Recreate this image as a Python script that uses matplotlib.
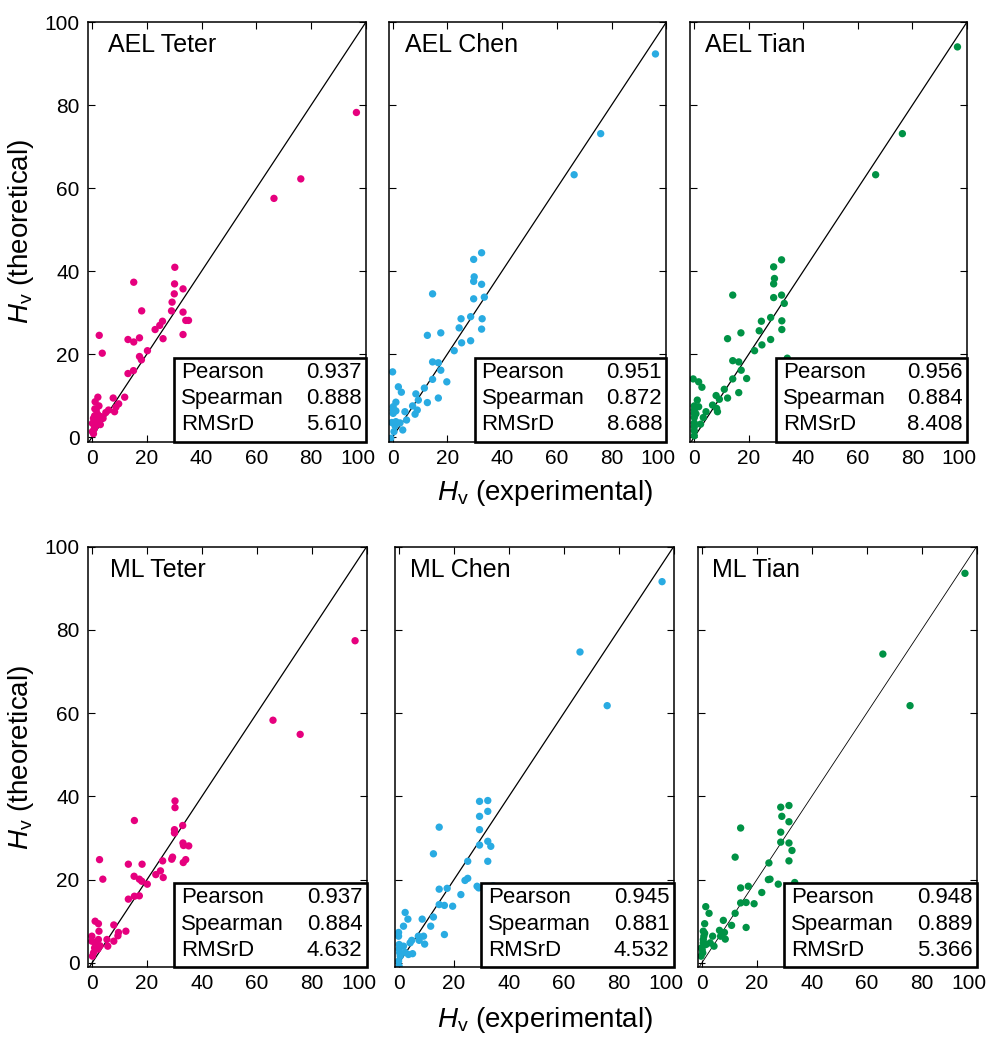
import matplotlib
matplotlib.use("Agg")
import matplotlib.pyplot as plt
from matplotlib.patches import Rectangle
from matplotlib.transforms import ScaledTranslation

plt.rcParams["font.family"] = ["Liberation Sans", "DejaVu Sans"]
plt.rcParams["mathtext.fontset"] = "custom"
plt.rcParams["mathtext.rm"] = "Liberation Sans"
plt.rcParams["mathtext.it"] = "Liberation Sans:italic"

# --- data (experimental, theoretical) ---
ael_teter_x = [30.2, 15.2, 30.1, 33.2, 30.0, 29.2, 18.1, 29.0, 33.2, 34.2, 35.2, 25.7, 24.7, 23.0,
               33.2, 2.6, 25.9, 13.1, 15.2, 17.3, 20.2, 3.7, 17.3, 18.0, 15.1, 13.1,
               2.1, 7.7, 11.9, 1.1, 9.7, 8.7, 8.2, 5.0, 3.3, 0.9, 2.1, 0.1, 1.1, 0.1, 1.5, 2.5,
               0.5, 1.5, 3.0, 0.8, 0.5, 6.0, 4.0, 2.0, 1.0, 66.4, 76.2, 96.5]
ael_teter_y = [40.9, 37.3, 36.9, 35.7, 34.5, 32.5, 30.4, 30.4, 30.1, 28.1, 28.1, 27.9, 26.9, 25.9,
               24.7, 24.5, 23.7, 23.5, 22.9, 23.9, 20.8, 20.2, 19.4, 18.6, 16.0, 15.3,
               9.6, 9.4, 9.6, 8.5, 8.0, 7.2, 6.1, 5.9, 4.9, 5.1, 4.1, 3.3, 2.5, 1.3, 6.5, 7.5,
               4.5, 3.8, 3.0, 2.0, 0.8, 6.5, 4.5, 5.5, 6.8, 57.5, 62.2, 78.2]

ael_chen_x = [32.5, 29.6, 29.8, 29.6, 32.5, 14.6, 29.6, 33.5, 25.0, 28.5, 32.7, 24.3, 32.5, 17.6,
              12.7, 28.5, 25.2, 22.5, 34.4, 14.6, 16.7, 17.6, 0.0, 14.6, 19.8, 2.1, 11.6, 3.2,
              8.5, 16.7, 12.7, 9.4, 1.2, 7.3, 0.2, 0.2, 0.2, 4.5, 9.0, 8.2, 1.2, 5.1, 1.2, -0.3,
              3.7, 0.5, -0.7, 0.9, 2.7, 66.3, 76.0, 96.0]
ael_chen_y = [44.4, 42.8, 38.6, 37.5, 36.8, 34.5, 33.3, 33.7, 28.5, 29.0, 28.5, 26.3, 26.0, 25.1,
              24.5, 23.2, 22.7, 20.8, 18.1, 18.1, 17.9, 16.1, 15.7, 13.9, 13.3, 12.1, 11.8, 10.8,
              10.4, 9.4, 8.3, 8.9, 8.4, 7.5, 7.3, 6.5, 5.7, 6.1, 6.5, 5.5, 6.3, 4.1, 3.7, 3.5,
              1.7, 1.3, -0.3, 2.7, 3.4, 63.2, 73.1, 92.3]

ael_tian_x = [32.0, 29.1, 29.4, 29.1, 14.1, 32.0, 29.1, 33.0, 24.6, 28.0, 32.1, 23.8, 32.1, 17.1,
              12.2, 28.0, 24.8, 22.1, 34.1, 14.1, 16.3, 17.2, -0.4, 14.1, 19.2, 1.6, 2.8, 11.0,
              8.0, 16.3, 12.2, 1.1, 9.2, 0.0, 0.0, 0.0, 0.0, 0.0, 0.0, 0.0, 1.6, 6.7, 8.2, 8.5,
              4.3, 3.3, 0.6, 2.3, 0.0, 66.5, 76.3, 96.5]
ael_tian_y = [42.7, 41.0, 38.2, 36.9, 34.2, 34.2, 33.6, 32.2, 27.9, 28.8, 28.0, 25.6, 25.9, 25.1,
              23.7, 23.5, 22.2, 20.8, 19.0, 18.4, 18.1, 16.1, 14.0, 14.0, 14.1, 13.3, 12.0, 11.5,
              10.0, 10.7, 9.4, 8.9, 9.1, 7.5, 6.5, 5.7, 4.7, 3.4, 2.5, 1.5, 7.3, 7.7, 6.9, 6.1,
              6.1, 4.7, 5.6, 3.1, 0.3, 63.2, 73.1, 94.0]

ml_teter_x = [30.2, 30.2, 15.4, 33.0, 30.0, 30.0, 33.1, 35.2, 33.3, 29.3, 29.0, 34.1, 33.2, 25.7,
              2.7, 13.2, 18.2, 24.9, 23.2, 25.9, 15.3, 17.2, 18.1, 20.1, 3.9, 17.2, 15.4, 13.2,
              1.1, 2.3, 2.5, 7.9, 9.6, 9.4, 12.3, 5.4, 5.7, 7.9, 1.1, 0.9, 0.5, 0.1, 2.3, 2.9,
              2.1, -0.1, -0.1, 65.9, 75.8, 95.8]
ml_teter_y = [38.9, 37.3, 34.2, 33.0, 32.0, 31.2, 28.8, 28.1, 28.2, 25.4, 24.9, 24.8, 24.1, 24.5,
              24.8, 23.7, 23.7, 22.1, 21.2, 20.5, 20.8, 20.1, 19.6, 18.9, 20.1, 16.1, 16.0, 15.3,
              10.0, 9.4, 7.6, 9.1, 7.3, 6.5, 7.6, 5.6, 4.0, 5.2, 4.8, 3.6, 2.4, 1.6, 5.6, 4.1,
              3.3, 6.4, 5.2, 58.3, 54.9, 77.4]

ml_chen_x = [29.3, 32.3, 32.3, 14.6, 29.3, 29.3, 32.3, 29.3, 33.4, 12.5, 25.0, 32.3, 25.0, 24.0,
             28.4, 29.0, 34.3, 14.6, 17.5, 22.5, 14.6, 16.5, 19.5, 2.2, 12.5, 3.2, 8.4, 11.5,
             1.6, 16.5, -0.2, -0.2, 7.0, 8.9, 9.3, 7.3, 4.0, 4.6, 0.0, 0.0, 0.2, 0.4, -0.2, 0.0,
             1.6, 2.2, 4.9, 3.4, 65.9, 75.8, 95.8]
ml_chen_y = [38.8, 39.0, 36.4, 32.6, 35.2, 32.0, 29.2, 28.3, 28.0, 26.2, 24.4, 24.4, 20.3, 19.8,
             18.4, 18.0, 18.5, 17.7, 17.9, 16.4, 14.0, 13.8, 13.6, 12.1, 11.0, 10.5, 10.5, 8.8,
             8.8, 6.8, 7.3, 6.4, 6.4, 6.4, 4.5, 5.4, 4.8, 5.4, 4.4, 3.3, 2.4, 1.6, 0.4, -0.8,
             4.0, 2.5, 2.2, 2.0, 74.7, 61.8, 91.6]

ml_tian_x = [28.7, 31.7, 29.1, 31.7, 14.1, 28.7, 28.7, 31.7, 32.8, 12.1, 24.4, 31.7, 24.2, 24.8,
             27.8, 33.8, 14.1, 16.9, 21.8, 14.1, 16.1, 19.0, 1.4, 2.6, 12.1, 7.8, 10.8, 1.0,
             16.1, 6.4, 8.2, 6.8, 8.5, 0.5, 0.7, 0.5, 0.1, -0.3, 1.0, 0.5, 1.5, 3.0, 3.9, 4.4,
             0.3, -0.2, 65.9, 75.8, 95.8]
ml_tian_y = [37.4, 37.8, 35.2, 33.9, 32.4, 31.4, 29.0, 28.8, 27.0, 25.4, 24.0, 24.5, 20.0, 20.1,
             18.9, 19.3, 18.0, 18.4, 16.9, 14.4, 14.5, 14.2, 13.5, 11.9, 11.9, 10.2, 9.0, 9.4,
             8.5, 7.8, 7.3, 6.4, 5.7, 7.6, 6.4, 4.8, 3.2, 1.6, 7.1, 5.6, 4.4, 4.8, 6.4, 4.0,
             2.4, 3.6, 74.2, 61.8, 93.6]

titles = ["AEL Teter", "AEL Chen", "AEL Tian", "ML Teter", "ML Chen", "ML Tian"]
pearson = ["0.937", "0.951", "0.956", "0.937", "0.945", "0.948"]
spearman = ["0.888", "0.872", "0.884", "0.884", "0.881", "0.889"]
rmsrd = ["5.610", "8.688", "8.408", "4.632", "4.532", "5.366"]
ticks = [0, 20, 40, 60, 80, 100]

xs = [ael_teter_x, ael_chen_x, ael_tian_x, ml_teter_x, ml_chen_x, ml_tian_x]
ys = [ael_teter_y, ael_chen_y, ael_tian_y, ml_teter_y, ml_chen_y, ml_tian_y]
colors = ["#e6007e", "#29abe2", "#009245"] * 2

W, H = 988, 1053
fig = plt.figure(figsize=(W / 100, H / 100), dpi=100)

# axes boxes in pixels: left, top, right, bottom
boxes = [(88, 22, 366, 441.6), (388.5, 22, 666.4, 441.6), (690.2, 22, 967, 441.6),
         (88, 546.7, 366.6, 967.4), (395, 546.7, 673.6, 967.4), (697.8, 546.7, 976.5, 967.4)]
title_x = [0.072, 0.058, 0.052, 0.08, 0.055, 0.05]
diag_lw = [0.9, 0.9, 0.9, 0.9, 0.9, 0.6]

for i in range(6):
    l, t, r, b = boxes[i]
    ax = fig.add_axes([l / W, 1 - b / H, (r - l) / W, (b - t) / H])
    ax.plot([-1.5, 100], [-1.5, 100], color="black", lw=diag_lw[i], zorder=1)
    ax.scatter(xs[i], ys[i], s=28, color=colors[i], edgecolors="none", zorder=2)
    ax.set_xlim(-1.5, 100)
    ax.set_ylim(-1.1, 100)
    ax.set_xticks(ticks)
    ax.set_yticks(ticks)
    ax.tick_params(direction="in", top=True, right=True, length=5, width=0.8,
                   labelsize=15)
    ax.tick_params(axis="x", pad=5)
    ax.tick_params(axis="y", pad=6)
    if i % 3 != 0:
        ax.set_yticklabels([])
    # the "100" label sits a bit left of its tick, clear of the next panel's "0"
    lab = ax.xaxis.get_major_ticks()[-1].label1
    lab.set_transform(lab.get_transform() + ScaledTranslation(-0.08, 0, fig.dpi_scale_trans))
    for sp in ax.spines.values():
        sp.set_linewidth(1.1)

    ax.text(title_x[i], 0.928, titles[i], transform=ax.transAxes, fontsize=18,
            ha="left", va="baseline")

    ax.add_patch(Rectangle((0.31, 0.0), 0.69, 0.2, transform=ax.transAxes,
                           facecolor="white", edgecolor="black", lw=1.9, zorder=5,
                           clip_on=False))
    rows = [("Pearson", pearson[i]), ("Spearman", spearman[i]), ("RMSrD", rmsrd[i])]
    for k, (name, val) in enumerate(rows):
        yy = 0.165 - k * 0.0625
        ax.text(0.335, yy, name, transform=ax.transAxes, fontsize=16,
                ha="left", va="center", zorder=6)
        ax.text(0.985, yy, val, transform=ax.transAxes, fontsize=16,
                ha="right", va="center", zorder=6)

for row_mid, xlab_y in [(231.8, 493), (757, 1020)]:
    fig.text(21 / W, 1 - row_mid / H, r"$H_{\mathrm{v}}$ (theoretical)", rotation=90,
             ha="center", va="center", fontsize=20)
    fig.text(545 / W, 1 - xlab_y / H, r"$H_{\mathrm{v}}$ (experimental)",
             ha="center", va="center", fontsize=20)

fig.savefig("out.png", dpi=100)
